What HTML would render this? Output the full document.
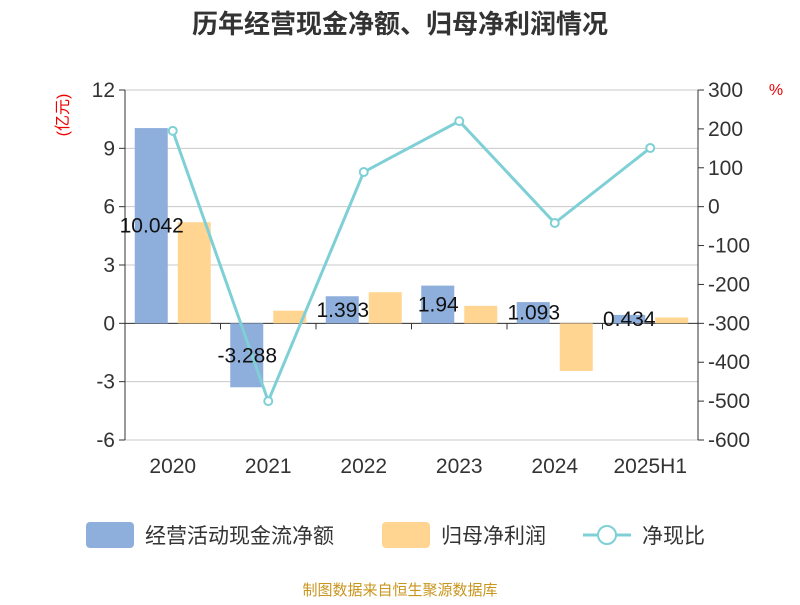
<!DOCTYPE html>
<html><head><meta charset="utf-8"><style>
body{margin:0;background:#fff;font-family:"Liberation Sans","Noto Sans CJK SC",sans-serif}
svg text{font-family:"Liberation Sans","Noto Sans CJK SC",sans-serif}
</style></head><body>
<svg id="c" width="800" height="600" xmlns="http://www.w3.org/2000/svg">
<text x="400" y="33" text-anchor="middle" font-size="26" font-weight="bold" fill="#333">历年经营现金净额、归母净利润情况</text>
<text x="0" y="0" transform="translate(68,115) rotate(-90)" text-anchor="middle" font-size="16" fill="#e00">(亿元)</text>
<text x="776" y="95" text-anchor="middle" font-size="16" fill="#e00">%</text>
<g id="grid"></g><g id="bars"></g><g id="line"></g><g id="labels"></g>
<g>
<rect x="86" y="522" width="48" height="26" rx="4" fill="#8eaedb"/>
<text x="145" y="543" font-size="21" fill="#333">经营活动现金流净额</text>
<rect x="382" y="522" width="48" height="26" rx="4" fill="#ffd591"/>
<text x="441" y="543" font-size="21" fill="#333">归母净利润</text>
<line x1="583" y1="535" x2="631" y2="535" stroke="#7fd0d6" stroke-width="3"/>
<circle cx="607" cy="535" r="9" fill="#fff" stroke="#7fd0d6" stroke-width="2"/>
<text x="642" y="543" font-size="21" fill="#333">净现比</text>
</g>
<text x="400" y="595" text-anchor="middle" font-size="15" fill="#c8961e">制图数据来自恒生聚源数据库</text>
</svg>
<script>
const categories=["2020","2021","2022","2023","2024","2025H1"];
const cashflow=[10.042,-3.288,1.393,1.94,1.093,0.434];
const profit=[5.2,0.65,1.6,0.9,-2.45,0.3];
const ratio=[195,-500,89,220,-42,151];
const leftTicks=[12,9,6,3,0,-3,-6];
const rightTicks=[300,200,100,0,-100,-200,-300,-400,-500,-600];
const NS="http://www.w3.org/2000/svg";
const X0=125,X1=698,T=90,B=440;
const yL=v=>T+(12-v)/18*(B-T);
const yR=v=>T+(300-v)/900*(B-T);
const bw=(X1-X0)/categories.length;
const xC=i=>X0+bw*(i+0.5);
function mk(tag,attrs,parent,txt){const e=document.createElementNS(NS,tag);for(const k in attrs)e.setAttribute(k,attrs[k]);if(txt!==undefined)e.textContent=txt;document.getElementById(parent).appendChild(e);return e;}
leftTicks.forEach(v=>{
 const g=mk("line",{x1:X0,x2:X1,y1:yL(v),y2:yL(v),stroke:"#c8c8c8","stroke-width":1},"grid");
 
 
 const tk=mk("line",{x1:X0-6,x2:X0,y1:yL(v),y2:yL(v),stroke:"#333"},"grid");
 
 
 const t=mk("text",{x:X0-10,y:yL(v)+7,"text-anchor":"end","font-size":21,fill:"#333"},"grid",String(v));
 
 
});
rightTicks.forEach(v=>{
 const tk=mk("line",{x1:X1,x2:X1+6,y1:yR(v),y2:yR(v),stroke:"#333"},"grid");
 
 
 const t=mk("text",{x:X1+10,y:yR(v)+7,"font-size":21,fill:"#333"},"grid",String(v));
 
 
});
[["left-axis",X0],["right-axis",X1]].forEach(([n,x])=>{
 const a=mk("line",{x1:x,x2:x,y1:T,y2:B,stroke:"#333"},"grid");
 
 
});
const za=mk("line",{x1:X0,x2:X1,y1:yL(0),y2:yL(0),stroke:"#333"},"grid");


categories.forEach((c,i)=>{
 const t=mk("text",{x:xC(i),y:473,"text-anchor":"middle","font-size":21,fill:"#333"},"grid",c);
 
 
 const tk=mk("line",{x1:X0+bw*(i+1),x2:X0+bw*(i+1),y1:yL(0),y2:yL(0)+6,stroke:"#333"},"grid");
 
 
 const v=cashflow[i],p=profit[i];
 const b=mk("rect",{x:xC(i)-38,y:Math.min(yL(v),yL(0)),width:33,height:Math.abs(yL(v)-yL(0)),fill:"#8eaedb"},"bars");
 
 
 const b2=mk("rect",{x:xC(i)+5,y:Math.min(yL(p),yL(0)),width:33,height:Math.abs(yL(p)-yL(0)),fill:"#ffd591"},"bars");
 
 
 const l=mk("text",{x:xC(i)-21,y:(yL(v)+yL(0))/2+7,"text-anchor":"middle","font-size":21,fill:"#111"},"labels",String(v));
 
 
});
const pl=mk("polyline",{points:ratio.map((v,i)=>xC(i)+","+yR(v)).join(" "),fill:"none",stroke:"#7fd0d6","stroke-width":3},"line");


ratio.forEach((v,i)=>{
 const c=mk("circle",{cx:xC(i),cy:yR(v),r:4,fill:"#fff",stroke:"#7fd0d6","stroke-width":2},"line");
 
 
});
</script>
</body></html>
